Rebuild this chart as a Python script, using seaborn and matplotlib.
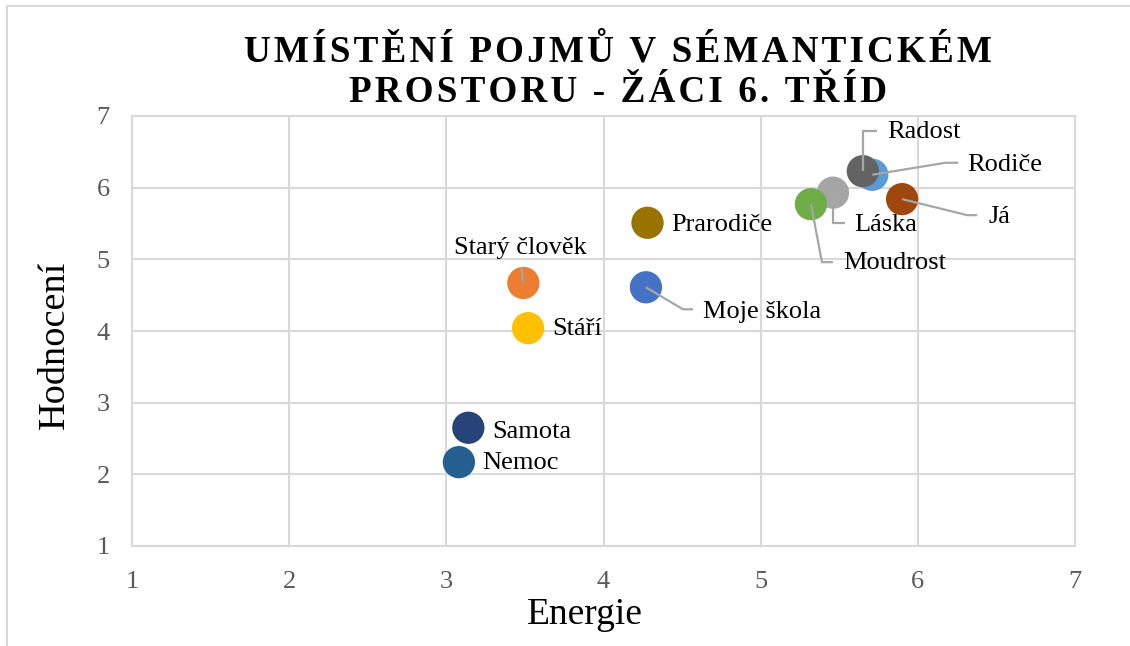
import matplotlib
matplotlib.use("Agg")
import matplotlib.pyplot as plt
import seaborn as sns
import pandas as pd
import numpy as np
from matplotlib.lines import Line2D

# ---- data ----
concepts = ["Moje škola", "Starý člověk", "Láska", "Stáří", "Rodiče", "Moudrost",
            "Samota", "Já", "Radost", "Prarodiče", "Nemoc"]
energie = [4.27, 3.49, 5.46, 3.52, 5.71, 5.32, 3.14, 5.90, 5.65, 4.28, 3.08]
hodnoceni = [4.61, 4.67, 5.93, 4.04, 6.18, 5.77, 2.65, 5.84, 6.23, 5.51, 2.17]
colors = ["#4472C4", "#ED7D31", "#A5A5A5", "#FFC000", "#5B9BD5", "#70AD47",
          "#264478", "#9E480E", "#636363", "#997300", "#255E91"]
ticks = [1, 2, 3, 4, 5, 6, 7]
title_lines = ["UMÍSTĚNÍ POJMŮ V SÉMANTICKÉM", "PROSTORU - ŽÁCI 6. TŘÍD"]
x_label = "Energie"
y_label = "Hodnocení"

# label layout (pixel offsets from point centre, y up): text anchor, leader path
label_layout = {
    "Radost":       dict(text=(24, 39), ha="left", leader=[(0, 0), (0, 40), (14, 40)]),
    "Rodiče":       dict(text=(95, 10), ha="left", leader=[(0, 0), (73, 12), (86, 12)]),
    "Já":           dict(text=(86, -18), ha="left", leader=[(0, 0), (65, -16), (75, -16)]),
    "Láska":        dict(text=(21, -32), ha="left", leader=[(0, 0), (0, -30), (12, -30)]),
    "Moudrost":     dict(text=(32, -59), ha="left", leader=[(0, 0), (11, -58), (22, -58)]),
    "Starý člověk": dict(text=(-3, 35), ha="center", leader=[(0, 0), (-2, 16)]),
    "Moje škola":   dict(text=(57, -25), ha="left", leader=[(0, 0), (37, -22), (47, -22)]),
    "Prarodiče":    dict(text=(24, -2), ha="left", leader=None),
    "Stáří":        dict(text=(24, -1), ha="left", leader=None),
    "Samota":       dict(text=(24, -4), ha="left", leader=None),
    "Nemoc":        dict(text=(23, -1), ha="left", leader=None),
}

df = pd.DataFrame({"Pojem": concepts, "Energie": energie, "Hodnocení": hodnoceni})

sns.set_theme(style="white")
plt.rcParams["font.family"] = ["Liberation Serif", "DejaVu Serif"]

W, H = 1130, 646
fig = plt.figure(figsize=(W / 100, H / 100), dpi=100)
L, R, T, B = 132, 1075, 116, 546
ax = fig.add_axes([L / W, 1 - B / H, (R - L) / W, (B - T) / H])

sns.scatterplot(data=df, x="Energie", y="Hodnocení", hue="Pojem",
                palette=colors, hue_order=concepts, s=540, linewidth=0,
                legend=False, ax=ax, zorder=3, alpha=1)

ax.set_xlim(1, 7)
ax.set_ylim(1, 7)
ax.set_xticks(ticks)
ax.set_yticks(ticks)
ax.set_xticklabels([str(t) for t in ticks])
ax.set_yticklabels([str(t) for t in ticks])
ax.grid(True, color="#D9D9D9", linewidth=1.5, zorder=0)
ax.set_axisbelow(True)
for sp in ax.spines.values():
    sp.set_color("#D9D9D9")
    sp.set_linewidth(1.5)
ax.tick_params(axis="both", length=0, labelsize=19, colors="#595959")
ax.tick_params(axis="x", pad=18)
ax.tick_params(axis="y", pad=16)
ax.set_xlabel(x_label, fontsize=27, color="black")
ax.set_ylabel(y_label, fontsize=27.5, color="black")
ax.xaxis.set_label_coords(0.480, -0.119)
ax.yaxis.set_label_coords(-0.064, 0.467)

# labels and leader lines
fig.canvas.draw()
to_px = ax.transData
inv = ax.transData.inverted()
for name, x, y in zip(concepts, energie, hodnoceni):
    lay = label_layout[name]
    px, py = to_px.transform((x, y))
    if lay["leader"]:
        pts = np.array([inv.transform((px + dx, py + dy)) for dx, dy in lay["leader"]])
        ax.plot(pts[:, 0], pts[:, 1], color="#A6A6A6", linewidth=1.6, zorder=4,
                solid_capstyle="butt")
    tx, ty = inv.transform((px + lay["text"][0], py + lay["text"][1]))
    ax.text(tx, ty, name, ha=lay["ha"], va="center", fontsize=19,
            color="black", zorder=5)

# title with letter spacing
hair = "\u200a"
for i, line in enumerate(title_lines):
    spaced = hair.join(list(line))
    fig.text(618 / W, 1 - (52 + 40 * i) / H, spaced, ha="center", va="center",
             fontsize=26.7, fontweight="bold", color="black")

# chart border (left and top visible)
fig.add_artist(Line2D([7 / W, 7 / W], [0, 1 - 6 / H], transform=fig.transFigure,
                      color="#D9D9D9", linewidth=1.5))
fig.add_artist(Line2D([7 / W, 1], [1 - 6 / H, 1 - 6 / H], transform=fig.transFigure,
                      color="#D9D9D9", linewidth=1.5))

fig.savefig("out.png", dpi=100, facecolor="white")
